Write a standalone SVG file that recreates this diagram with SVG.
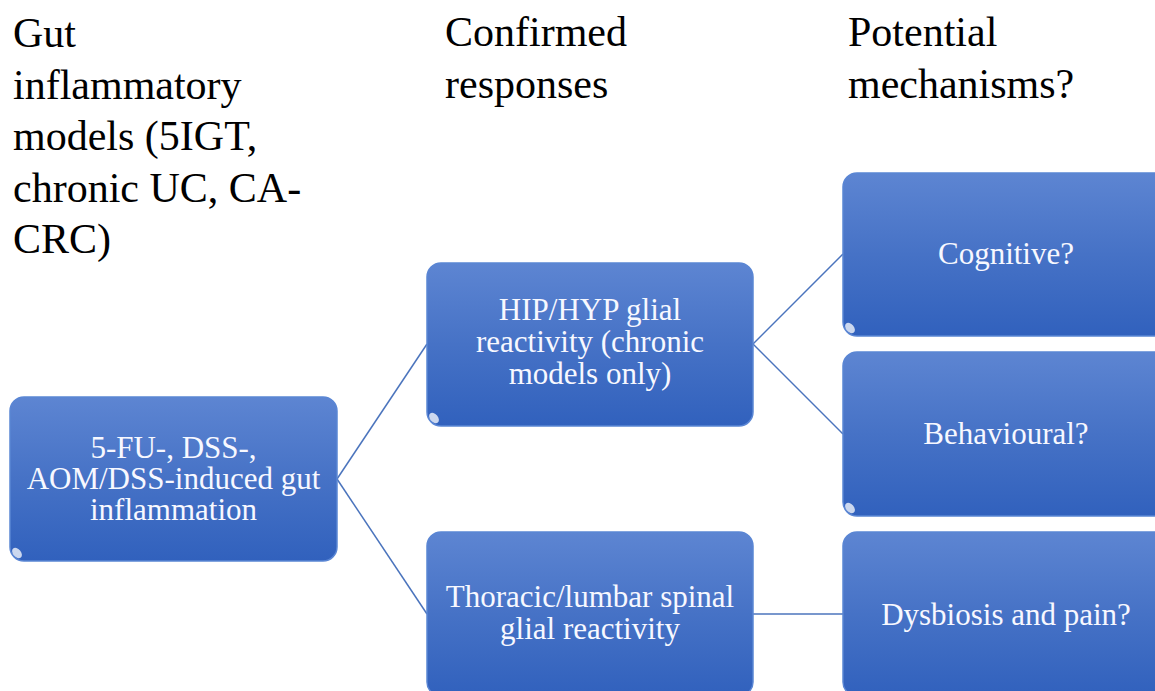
<svg xmlns="http://www.w3.org/2000/svg" width="1155" height="691" viewBox="0 0 1155 691">
<defs>
  <linearGradient id="boxGrad" x1="0" y1="0" x2="0" y2="1">
    <stop offset="0" stop-color="#5d85d2"/>
    <stop offset="0.5" stop-color="#4672c6"/>
    <stop offset="1" stop-color="#3161bd"/>
  </linearGradient>
  <linearGradient id="hiGrad" x1="0" y1="0" x2="1" y2="0">
    <stop offset="0" stop-color="#ffffff" stop-opacity="0.2"/>
    <stop offset="0.5" stop-color="#ffffff" stop-opacity="0.55"/>
    <stop offset="1" stop-color="#ffffff" stop-opacity="0.2"/>
  </linearGradient>
</defs>
<style>
  text { font-family: 'Liberation Serif', 'Times New Roman', Times, serif; }
  .hdr { font-size: 42px; fill: #000000; }
  .box { fill: url(#boxGrad); stroke: #5a86d4; stroke-width: 1.5; }
  .hi { fill: none; stroke: url(#hiGrad); stroke-width: 2.5; stroke-linecap: round; }
  .glint { fill: #ffffff; fill-opacity: 0.75; }
  .lbl { font-size: 31px; fill: #f7f8ff; text-anchor: middle; }
  .conn { stroke: #4b74bd; stroke-width: 1.5; fill: none; }
</style>
<rect x="0" y="0" width="1155" height="691" fill="#ffffff"/>

<g id="headers">
  <text class="hdr" x="13" y="47">Gut</text>
  <text class="hdr" x="13" y="98.5">inflammatory</text>
  <text class="hdr" x="13" y="150">models (5IGT,</text>
  <text class="hdr" x="13" y="201.5">chronic UC, CA-</text>
  <text class="hdr" x="13" y="253">CRC)</text>
  <text class="hdr" x="445" y="46">Confirmed</text>
  <text class="hdr" x="445" y="97.5">responses</text>
  <text class="hdr" x="848" y="46">Potential</text>
  <text class="hdr" x="848" y="97.5">mechanisms?</text>
</g>

<g id="connectors">
  <line class="conn" x1="337" y1="479" x2="427" y2="344"/>
  <line class="conn" x1="337" y1="479" x2="427" y2="614"/>
  <line class="conn" x1="753" y1="344" x2="843" y2="254"/>
  <line class="conn" x1="753" y1="344" x2="843" y2="434"/>
  <line class="conn" x1="753" y1="614" x2="843" y2="614"/>
</g>

<g id="node-gut">
  <rect class="box" x="10" y="397" width="327" height="164" rx="14"/>
  <path class="hi" d="M22 400.5 H325"/>
  <ellipse class="glint" cx="17" cy="553" rx="4" ry="6" transform="rotate(-40 17 553)"/>
  <text class="lbl" x="173.5" y="458">5-FU-, DSS-,</text>
  <text class="lbl" x="173.5" y="489">AOM/DSS-induced  gut</text>
  <text class="lbl" x="173.5" y="520">inflammation</text>
</g>

<g id="node-hip">
  <rect class="box" x="427" y="263" width="326" height="163" rx="14"/>
  <path class="hi" d="M439 266.5 H741"/>
  <ellipse class="glint" cx="434" cy="418" rx="4" ry="6" transform="rotate(-40 434 418)"/>
  <text class="lbl" x="590" y="320">HIP/HYP glial</text>
  <text class="lbl" x="590" y="352">reactivity (chronic</text>
  <text class="lbl" x="590" y="384">models only)</text>
</g>

<g id="node-spinal">
  <rect class="box" x="427" y="532" width="326" height="164" rx="14"/>
  <path class="hi" d="M439 535.5 H741"/>
  <text class="lbl" x="590" y="607">Thoracic/lumbar spinal</text>
  <text class="lbl" x="590" y="639">glial  reactivity</text>
</g>

<g id="node-cognitive">
  <rect class="box" x="843" y="173" width="326" height="163" rx="14"/>
  <path class="hi" d="M855 176.5 H1160"/>
  <ellipse class="glint" cx="850" cy="328" rx="4" ry="6" transform="rotate(-40 850 328)"/>
  <text class="lbl" x="1006" y="264">Cognitive?</text>
</g>

<g id="node-behavioural">
  <rect class="box" x="843" y="352" width="326" height="164" rx="14"/>
  <path class="hi" d="M855 355.5 H1160"/>
  <ellipse class="glint" cx="850" cy="508" rx="4" ry="6" transform="rotate(-40 850 508)"/>
  <text class="lbl" x="1006" y="444">Behavioural?</text>
</g>

<g id="node-dysbiosis">
  <rect class="box" x="843" y="532" width="326" height="164" rx="14"/>
  <path class="hi" d="M855 535.5 H1160"/>
  <text class="lbl" x="1006" y="625">Dysbiosis  and pain?</text>
</g>
</svg>
